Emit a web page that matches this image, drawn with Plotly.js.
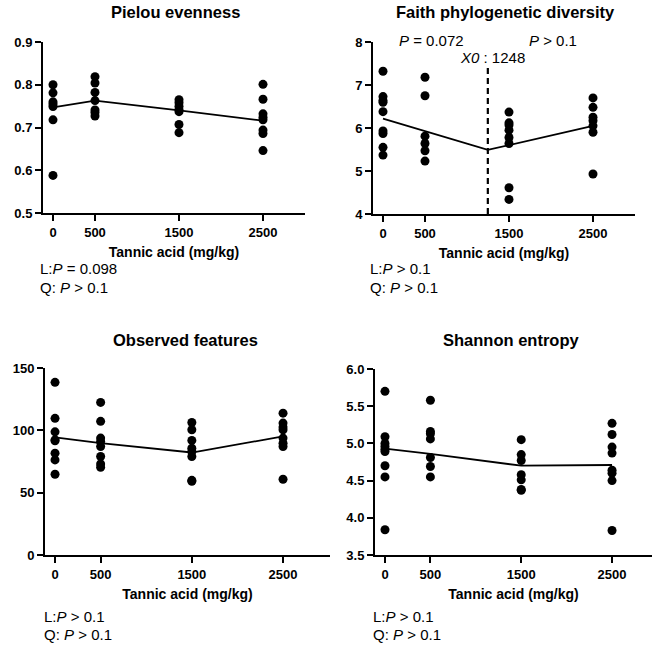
<!DOCTYPE html>
<html>
<head>
<meta charset="utf-8">
<script src="https://cdn.plot.ly/plotly-3.0.1.min.js"></script>
<style>html,body{margin:0;padding:0;background:#fff;}#chart{width:652px;height:646px;}</style>
</head>
<body>
<div id="chart"></div>
<script>
// ---------- data ----------
const doses = [0, 500, 1500, 2500];
const doseTickLabels = ["0", "500", "1500", "2500"];

// Pielou evenness (points per dose)
const pielou0    = [0.800, 0.781, 0.760, 0.755, 0.749, 0.718, 0.588];
const pielou500  = [0.819, 0.804, 0.782, 0.763, 0.741, 0.735, 0.727];
const pielou1500 = [0.765, 0.758, 0.750, 0.742, 0.737, 0.707, 0.688];
const pielou2500 = [0.801, 0.766, 0.732, 0.724, 0.718, 0.694, 0.686, 0.646];
const pielouLine = [0.747, 0.763, 0.740, 0.716];
const pielouTicks = [0.5, 0.6, 0.7, 0.8, 0.9];
const pielouTickLabels = ["0.5", "0.6", "0.7", "0.8", "0.9"];

// Faith phylogenetic diversity
const faith0    = [7.32, 6.73, 6.64, 6.60, 6.38, 5.93, 5.87, 5.55, 5.37];
const faith500  = [7.18, 6.75, 5.81, 5.64, 5.47, 5.23];
const faith1500 = [6.37, 6.12, 6.07, 5.95, 5.78, 5.64, 4.61, 4.34];
const faith2500 = [6.70, 6.48, 6.25, 6.17, 6.05, 5.90, 4.93];
const faithBreakpoint = 1248;
const faithSegX = [0, 1248, 2500];
const faithSegY = [6.22, 5.49, 6.05];
const faithDashTop = 7.43;
const faithTicks = [4, 5, 6, 7, 8];
const faithTickLabels = ["4", "5", "6", "7", "8"];

// Observed features
const obs0    = [138.5, 109.6, 98.8, 92.4, 91.6, 81.7, 76.3, 64.8];
const obs500  = [122.4, 107.2, 93.8, 91.0, 87.0, 79.0, 73.0, 70.4];
const obs1500 = [106.3, 100.5, 91.9, 85.7, 83.0, 79.0, 59.9, 59.2];
const obs2500 = [113.8, 105.8, 102.6, 100.5, 93.8, 89.7, 87.0, 60.8];
const obsLine = [94.3, 89.7, 82.2, 95.1];
const obsTicks = [0, 50, 100, 150];
const obsTickLabels = ["0", "50", "100", "150"];

// Shannon entropy
const shan0    = [5.70, 5.09, 5.00, 4.96, 4.92, 4.89, 4.70, 4.55, 3.84];
const shan500  = [5.58, 5.16, 5.13, 5.06, 4.81, 4.69, 4.55];
const shan1500 = [5.05, 4.85, 4.77, 4.58, 4.51, 4.38, 4.37];
const shan2500 = [5.27, 5.12, 4.95, 4.87, 4.64, 4.60, 4.50, 3.83];
const shanLine = [4.93, 4.86, 4.70, 4.71];
const shanTicks = [3.5, 4.0, 4.5, 5.0, 5.5, 6.0];
const shanTickLabels = ["3.5", "4.0", "4.5", "5.0", "5.5", "6.0"];

// ---------- helpers ----------
const W = 652, H = 646;
const px = x => x / W;
const py = y => 1 - y / H;
const FONT = "Liberation Sans, Arial, Helvetica, sans-serif";
const bold = arr => arr.map(s => '<b>' + s + '</b>');

function pointsTrace(groups, xa, ya) {
  const xs = [], ys = [];
  groups.forEach((g, i) => g.forEach(v => { xs.push(doses[i]); ys.push(v); }));
  return {x: xs, y: ys, xaxis: xa, yaxis: ya, type: 'scatter', mode: 'markers',
    marker: {color: '#000', size: 9}, showlegend: false, hoverinfo: 'x+y', cliponaxis: false};
}
function lineTrace(xs, ys, xa, ya, dash) {
  return {x: xs, y: ys, xaxis: xa, yaxis: ya, type: 'scatter', mode: 'lines',
    line: {color: '#000', width: dash ? 2.2 : 1.8, dash: dash || 'solid'}, showlegend: false, hoverinfo: 'skip'};
}

const data = [
  pointsTrace([pielou0, pielou500, pielou1500, pielou2500], 'x', 'y'),
  lineTrace(doses, pielouLine, 'x', 'y'),
  lineTrace([faithBreakpoint, faithBreakpoint], [4, faithDashTop], 'x2', 'y2', '6px,4px'),
  pointsTrace([faith0, faith500, faith1500, faith2500], 'x2', 'y2'),
  lineTrace(faithSegX, faithSegY, 'x2', 'y2'),
  pointsTrace([obs0, obs500, obs1500, obs2500], 'x3', 'y3'),
  lineTrace(doses, obsLine, 'x3', 'y3'),
  pointsTrace([shan0, shan500, shan1500, shan2500], 'x4', 'y4'),
  lineTrace(doses, shanLine, 'x4', 'y4')
];

function xAxis(x0, x1, range, anchor) {
  return {
    domain: [px(x0), px(x1)], anchor: anchor, range: range,
    showline: true, linecolor: '#000', linewidth: 2, showgrid: false, zeroline: false,
    ticks: 'outside', ticklen: 6, tickwidth: 2, tickcolor: '#000',
    tickvals: doses, ticktext: bold(doseTickLabels),
    tickfont: {family: FONT, size: 13, color: '#000'},
    title: {text: '<b>Tannic acid (mg/kg)</b>', font: {family: FONT, size: 14, color: '#000'}, standoff: 9}
  };
}
function yAxis(y0, y1, range, tickvals, ticktext, anchor) {
  return {
    domain: [py(y1), py(y0)], anchor: anchor, range: range,
    showline: true, linecolor: '#000', linewidth: 2, showgrid: false, zeroline: false,
    ticks: 'outside', ticklen: 6, tickwidth: 2, tickcolor: '#000',
    tickvals: tickvals, ticktext: bold(ticktext),
    tickfont: {family: FONT, size: 13, color: '#000'}
  };
}

const layout = {
  width: W, height: H,
  margin: {l: 0, r: 0, t: 0, b: 0},
  paper_bgcolor: '#fff', plot_bgcolor: 'rgba(0,0,0,0)',
  font: {family: FONT, color: '#000'},
  xaxis:  xAxis(43, 305, [-119, 3000], 'y'),
  yaxis:  yAxis(42, 213, [0.5, 0.9], pielouTicks, pielouTickLabels, 'x'),
  xaxis2: xAxis(373, 635, [-119, 3000], 'y2'),
  yaxis2: yAxis(42, 214, [4, 8], faithTicks, faithTickLabels, 'x2'),
  xaxis3: xAxis(45, 330, [-110, 3015], 'y3'),
  yaxis3: yAxis(368, 555, [0, 150], obsTicks, obsTickLabels, 'x3'),
  xaxis4: xAxis(375, 652, [-110, 2940], 'y4'),
  yaxis4: yAxis(369, 555, [3.5, 6.0], shanTicks, shanTickLabels, 'x4'),
  annotations: []
};

const titles = [
  ['Pielou evenness', 175, 12],
  ['Faith phylogenetic diversity', 505, 12],
  ['Observed features', 185, 340],
  ['Shannon entropy', 511, 340]
];
titles.forEach(t => layout.annotations.push({
  text: '<b>' + t[0] + '</b>', xref: 'paper', yref: 'paper', x: px(t[1]), y: py(t[2]),
  xanchor: 'center', yanchor: 'middle', showarrow: false, font: {family: FONT, size: 16.5, color: '#000'}
}));

const stats = [
  [38, 268, 287, 'L:<i>P</i> = 0.098'],
  [368, 268, 287, 'L:<i>P</i> > 0.1'],
  [42, 616, 634, 'L:<i>P</i> > 0.1'],
  [371, 616, 634, 'L:<i>P</i> > 0.1']
];
stats.forEach(s => {
  layout.annotations.push({text: s[3], xref: 'paper', yref: 'paper', x: px(s[0]), y: py(s[1]),
    xanchor: 'left', yanchor: 'middle', showarrow: false, font: {family: FONT, size: 15, color: '#000'}});
  layout.annotations.push({text: 'Q: <i>P</i> > 0.1', xref: 'paper', yref: 'paper', x: px(s[0]), y: py(s[2]),
    xanchor: 'left', yanchor: 'middle', showarrow: false, font: {family: FONT, size: 15, color: '#000'}});
});

// segmented-regression labels in Faith panel (paper coords: they sit above the axis range)
layout.annotations.push({text: '<i>P</i> = 0.072', xref: 'paper', yref: 'paper', x: px(432), y: py(40),
  xanchor: 'center', yanchor: 'middle', showarrow: false, font: {family: FONT, size: 15, color: '#000'}});
layout.annotations.push({text: '<i>P</i> > 0.1', xref: 'paper', yref: 'paper', x: px(553), y: py(40),
  xanchor: 'center', yanchor: 'middle', showarrow: false, font: {family: FONT, size: 15, color: '#000'}});
layout.annotations.push({text: '<i>X0</i> : ' + faithBreakpoint, xref: 'paper', yref: 'paper', x: px(492), y: py(57),
  xanchor: 'center', yanchor: 'middle', showarrow: false, font: {family: FONT, size: 15, color: '#000'}});

Plotly.newPlot('chart', data, layout, {displayModeBar: false, staticPlot: true});
</script>
</body>
</html>
